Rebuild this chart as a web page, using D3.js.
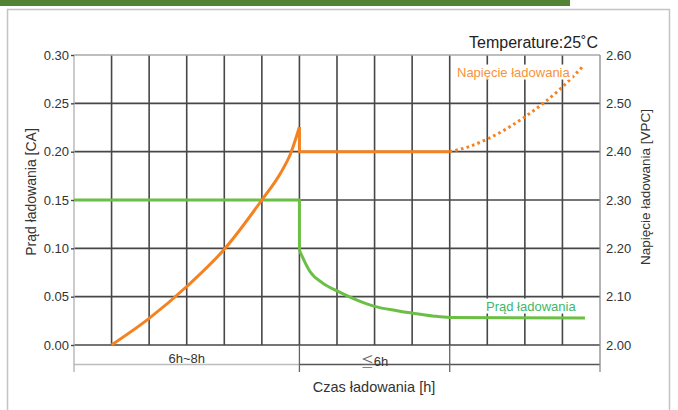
<!DOCTYPE html>
<html>
<head>
<meta charset="utf-8">
<script src="https://cdn.jsdelivr.net/npm/d3@7"></script>
<style>
  html, body { margin: 0; padding: 0; background: #fff; }
  svg { display: block; font-family: "Liberation Sans", Arial, sans-serif; }
</style>
</head>
<body>
<svg id="chart" width="678" height="410"></svg>
<script>
// ---- data ----
const xDomain = [0, 14];
const gridSteps = d3.range(1, 14);
const leftTicks = [0.00, 0.05, 0.10, 0.15, 0.20, 0.25, 0.30];
const rightTicks = [2.00, 2.10, 2.20, 2.30, 2.40, 2.50, 2.60];

const currentFlatTime = [0, 6, 6];
const currentFlatValue = [0.15, 0.15, 0.098];
const currentDecayTime = [6, 6.28, 6.62, 7, 7.5, 8, 8.6, 9, 9.55, 10, 13.6];
const currentDecayValue = [0.098, 0.076, 0.064, 0.056, 0.047, 0.040, 0.0355, 0.033, 0.030, 0.0285, 0.028];

const voltageRiseTime = [1, 2, 3, 4, 5, 5.5, 5.75, 6];
const voltageRiseValue = [2.00, 2.055, 2.121, 2.198, 2.30, 2.356, 2.393, 2.451];
const voltageHoldTime = [6, 6, 10];
const voltageHoldValue = [2.451, 2.40, 2.40];
const voltageDotTime = [10, 10.5, 11, 12, 13, 13.55];
const voltageDotValue = [2.40, 2.41, 2.426, 2.472, 2.534, 2.577];

const bracketBounds = [0, 6, 10, 14];
const bracketLabels = ["6h~8h", "≦6h", ""];

const titleText = "Temperature:25˚C";
const leftTitle = "Prąd ładowania [CA]";
const rightTitle = "Napięcie ładowania [VPC]";
const xTitle = "Czas ładowania [h]";
const voltageLabel = "Napięcie ładowania";
const currentLabel = "Prąd ładowania";

// ---- layout ----
const svg = d3.select("#chart");
const x = d3.scaleLinear().domain(xDomain).range([74, 600]);
const yL = d3.scaleLinear().domain([0, 0.30]).range([345, 55]);
const yR = d3.scaleLinear().domain([2.0, 2.6]).range([345, 55]);

const ORANGE = "#f58220";
const GREEN = "#6cbf45";

// frame
svg.append("rect").attr("x", 0).attr("y", 0).attr("width", 570).attr("height", 6).attr("fill", "#528234");
svg.append("path").attr("d", "M7.5,410 V9.5 H669.5 V410").attr("fill", "none").attr("stroke", "#c4c4c4").attr("stroke-width", 1.5);

// grid
const g = svg.append("g");
g.selectAll(".vg").data(gridSteps).join("line")
  .attr("x1", d => x(d)).attr("x2", d => x(d)).attr("y1", yL(0.30)).attr("y2", yL(0))
  .attr("stroke", "#474747").attr("stroke-width", 1.6);
g.selectAll(".hg").data(leftTicks.filter(d => d < 0.30)).join("line")
  .attr("x1", x(0)).attr("x2", x(14)).attr("y1", d => yL(d)).attr("y2", d => yL(d))
  .attr("stroke", "#474747").attr("stroke-width", 1.6);
// top border
g.append("line").attr("x1", x(0)).attr("x2", x(14)).attr("y1", yL(0.30)).attr("y2", yL(0.30))
  .attr("stroke", "#a8a8a8").attr("stroke-width", 1.4);

// bracket row
const by = 364.5;
g.append("line").attr("x1", x(0)).attr("x2", x(6)).attr("y1", by).attr("y2", by).attr("stroke", "#bdbdbd").attr("stroke-width", 1.3);
g.append("line").attr("x1", x(6)).attr("x2", x(14)).attr("y1", by).attr("y2", by).attr("stroke", "#555").attr("stroke-width", 1.3);
g.selectAll(".bb").data(bracketBounds).join("line")
  .attr("x1", d => x(d)).attr("x2", d => x(d))
  .attr("y1", (d, i) => (i === 0 || i === 3) ? yL(0.30) : yL(0)).attr("y2", 372)
  .attr("stroke", (d, i) => i === 0 ? "#b0b0b0" : (i === 3 ? "#8a8a8a" : "#666")).attr("stroke-width", 1.3);
const bl = g.selectAll(".bl").data(bracketLabels).join("text")
  .attr("x", (d, i) => (x(bracketBounds[i]) + x(bracketBounds[i + 1])) / 2)
  .attr("y", (d, i) => i === 1 ? 366 : 363)
  .attr("text-anchor", "middle").attr("font-size", 13).attr("fill", "#333");
bl.each(function(d) {
  const t = d3.select(this);
  if (d.startsWith("≦")) {
    t.append("tspan").attr("font-family", "Noto Sans CJK JP, sans-serif").attr("fill", "#666").text("≦");
    t.append("tspan").text(d.slice(1));
  } else {
    t.text(d);
  }
});

// axes
const axL = svg.append("g").attr("transform", `translate(${x(0)},0)`)
  .call(d3.axisLeft(yL).tickValues(leftTicks).tickSize(3).tickPadding(2).tickFormat(d3.format(".2f")));
axL.select(".domain").remove();
axL.selectAll(".tick line").attr("stroke", "#474747").attr("stroke-width", 1.4);
axL.selectAll("text").attr("font-size", 13).attr("fill", "#333").attr("font-family", "Liberation Sans, Arial, sans-serif");

const axR = svg.append("g").attr("transform", `translate(${x(14)},0)`)
  .call(d3.axisRight(yR).tickValues(rightTicks).tickSize(0).tickPadding(6).tickFormat(d3.format(".2f")));
axR.select(".domain").remove();
axR.selectAll("text").attr("font-size", 13).attr("fill", "#333").attr("font-family", "Liberation Sans, Arial, sans-serif");

// titles
svg.append("text").attr("x", 598).attr("y", 48).attr("text-anchor", "end")
  .attr("font-size", 16).attr("fill", "#222").text(titleText);
svg.append("text").attr("transform", "translate(36,192) rotate(-90)").attr("text-anchor", "middle")
  .attr("font-size", 14).attr("fill", "#333").text(leftTitle);
svg.append("text").attr("transform", "translate(650,187) rotate(-90)").attr("text-anchor", "middle")
  .attr("font-size", 13.5).attr("fill", "#333").text(rightTitle);
svg.append("text").attr("x", 374).attr("y", 392).attr("text-anchor", "middle")
  .attr("font-size", 14.5).attr("fill", "#333").text(xTitle);

// series
const zip = (a, b) => a.map((v, i) => [v, b[i]]);
const lineL = d3.line().x(d => x(d[0])).y(d => yL(d[1]));
const lineR = d3.line().x(d => x(d[0])).y(d => yR(d[1]));
const lineLc = d3.line().x(d => x(d[0])).y(d => yL(d[1])).curve(d3.curveMonotoneX);
const lineRc = d3.line().x(d => x(d[0])).y(d => yR(d[1])).curve(d3.curveMonotoneX);

const s = svg.append("g").attr("fill", "none").attr("stroke-width", 3).attr("stroke-linejoin", "round");
s.append("path").attr("d", lineL(zip(currentFlatTime, currentFlatValue))).attr("stroke", GREEN);
s.append("path").attr("d", lineLc(zip(currentDecayTime, currentDecayValue))).attr("stroke", GREEN);
s.append("path").attr("d", lineRc(zip(voltageRiseTime, voltageRiseValue))).attr("stroke", ORANGE);
s.append("path").attr("d", lineR(zip(voltageHoldTime, voltageHoldValue))).attr("stroke", ORANGE);
s.append("path").attr("d", lineRc(zip(voltageDotTime, voltageDotValue))).attr("stroke", ORANGE)
  .attr("stroke-dasharray", "2.6 3.2");

// series labels with white background
function label(txt, xStart, yMid, color) {
  const gg = svg.append("g");
  const r = gg.append("rect").attr("fill", "#fff");
  const t = gg.append("text").attr("x", xStart).attr("y", yMid).attr("dy", "0.35em")
    .attr("font-size", 13).attr("fill", color).text(txt);
  const b = t.node().getBBox();
  r.attr("x", b.x - 2).attr("y", b.y).attr("width", b.width + 4).attr("height", b.height);
}
label(voltageLabel, 457, 72, "#f7923a");
label(currentLabel, 486, 306, "#3db86a");
</script>
</body>
</html>
